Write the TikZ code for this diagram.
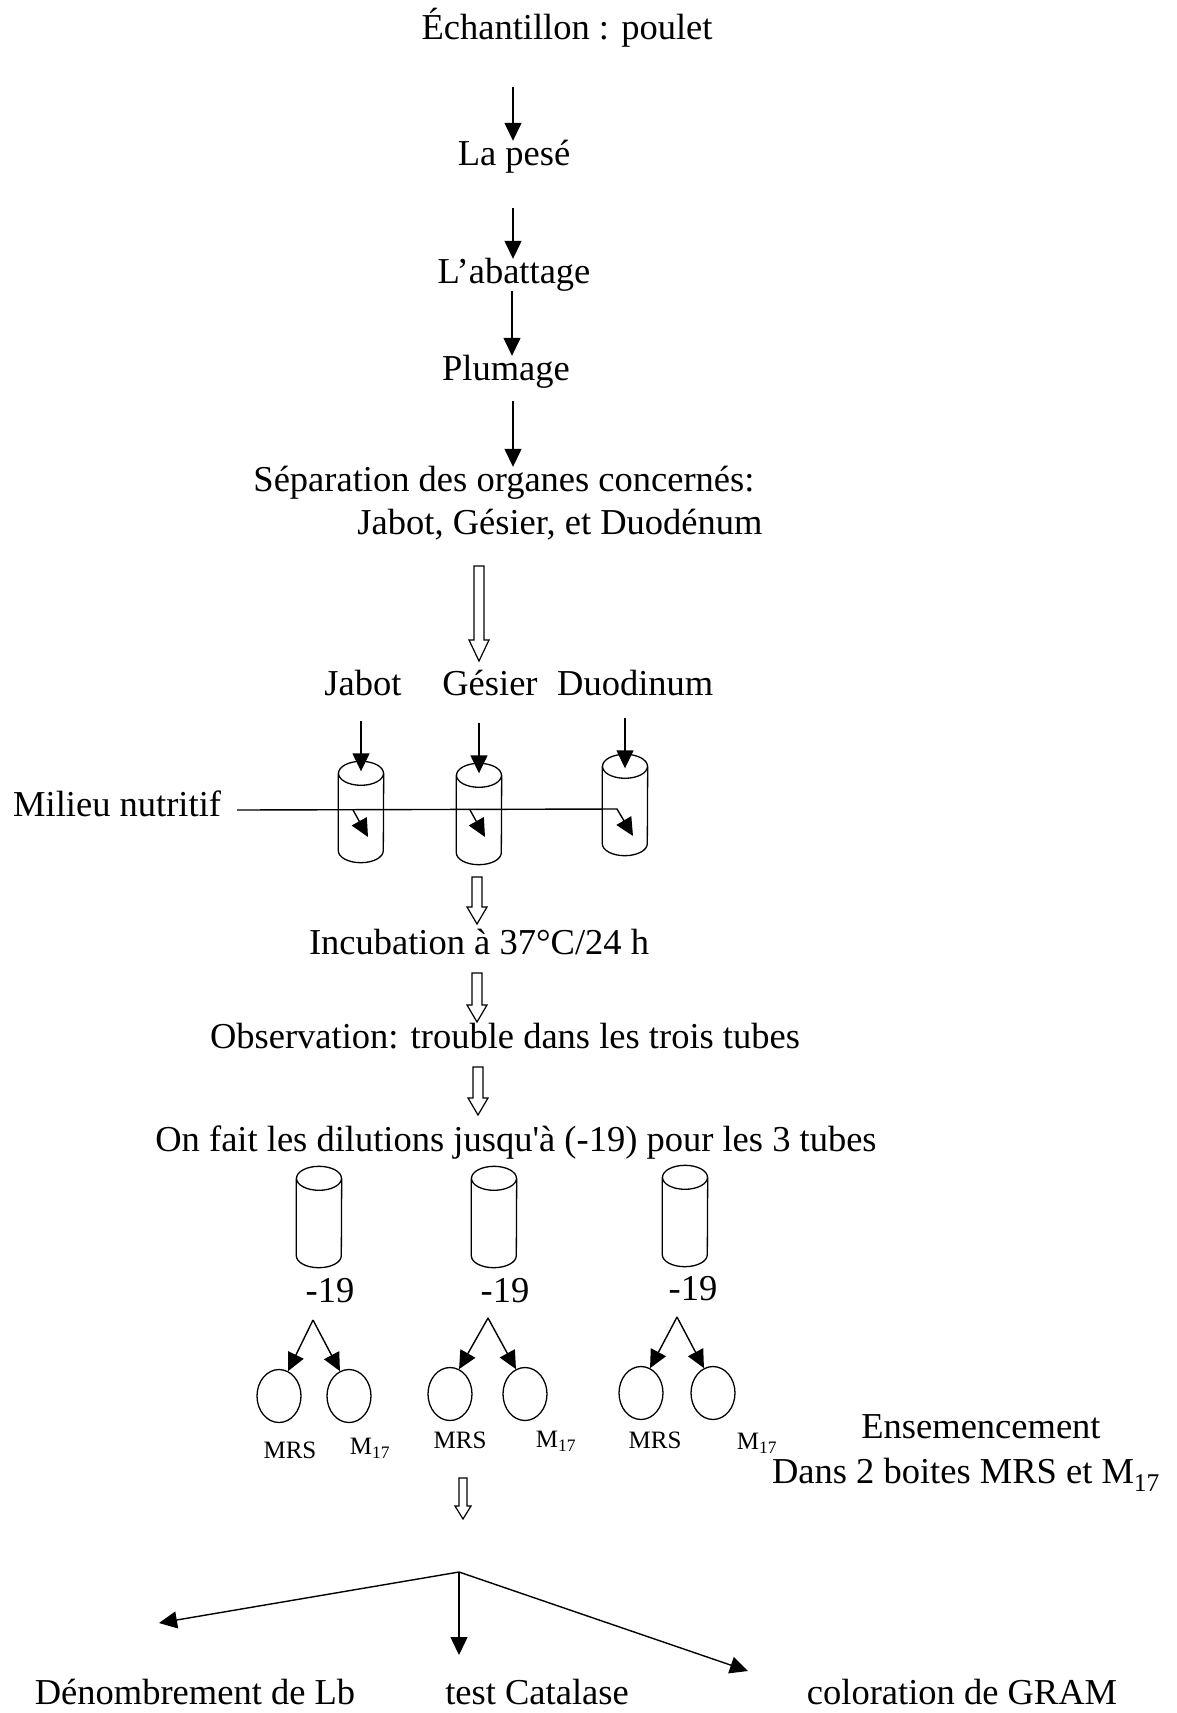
\documentclass[tikz,border=0pt]{standalone}
\usepackage{fontspec}
\setmainfont{Liberation Serif}[Ligatures=TeXOff]
\usetikzlibrary{arrows.meta,shapes.geometric,calc}
\newcommand{\hollowarr}[5]{%
  \draw[hollow] let \p1=(#1), \p2=(#2) in
    (\x1-#3,\y1) -- (\x1-#3,\y2+#5) -- (\x1-#4,\y2+#5) -- (\x1,\y2)
    -- (\x1+#4,\y2+#5) -- (\x1+#3,\y2+#5) -- (\x1+#3,\y1) -- cycle;}
\newcommand{\cylout}[1]{%
  \draw[tubeline] ([yshift=-12pt]#1.north) ellipse [x radius=22.5pt, y radius=12pt];
  \draw[tubeline] ([yshift=-12pt]#1.north west) -- ([yshift=12pt]#1.south west)
    arc[start angle=180, end angle=360, x radius=22.5pt, y radius=12pt]
    -- ([yshift=-12pt]#1.north east);}
\begin{document}
\begin{tikzpicture}[x=1pt,y=-1pt,
  txt/.style={font=\fontsize{36.5}{42}\selectfont, inner sep=0pt, text height=24pt, text depth=8pt, yshift=-4pt},
  small/.style={font=\fontsize{25}{28}\selectfont, inner sep=0pt},
  flow/.style={line width=1.4pt, -{Triangle[length=18pt,width=17pt]}},
  tube/.style={rectangle, minimum width=45pt, minimum height=101pt, inner sep=0pt},
  tubeline/.style={line width=1.3pt},
  dish/.style={ellipse, draw, line width=1.3pt, minimum width=44pt, minimum height=53pt, inner sep=0pt},
  hollow/.style={draw, line width=1.2pt, fill=white, line join=miter}]
\fill[white] (0,0) rectangle (1177,1713);
\useasboundingbox (0,0) rectangle (1177,1713);

% main flow texts
\node[txt] (s0) at (567,27) {Échantillon : poulet};
\node[txt] (s1) at (514,153) {La pesé};
\node[txt] (s2) at (514,271) {L’abattage};
\node[txt] (s3) at (506,368) {Plumage};
\node[txt] (s4a) at (504,479) {Séparation des organes concernés:};
\node[txt] (s4b) at (560,522) {Jabot, Gésier, et Duodénum};

\coordinate (a1) at (513,87);
\coordinate (a2) at (513,208);
\coordinate (a3) at (512,291);
\coordinate (a4) at (513,401);
\draw[flow] (a1) -- (a1 |- s1.north);
\draw[flow] (a2) -- (a2 |- s2.north);
\draw[flow] (a3) -- (a3 |- s3.north);
\draw[flow] (a4) -- (a4 |- s4a.north);

% hollow arrow to organs
\coordinate (h1s) at (479,566);
\coordinate (h1e) at (479,661);
\hollowarr{h1s}{h1e}{5pt}{10pt}{21pt}

\node[txt] (o1) at (363,683) {Jabot};
\node[txt] (o2) at (490,683) {Gésier};
\node[txt, anchor=west] (o3) at (557,683) {Duodinum};

% tubes row 1
\node[tube] (t1) at (361,812) {};
\node[tube] (t2) at (479,814) {};
\node[tube] (t3) at (625,805) {};
\cylout{t1}\cylout{t2}\cylout{t3}
\draw[flow] ([yshift=40pt]t1.north) -- ([yshift=-10pt]t1.north);
\draw[flow] ([yshift=40pt]t2.north) -- ([yshift=-10pt]t2.north);
\draw[flow] ([yshift=36pt]t3.north) -- ([yshift=-14pt]t3.north);

% milieu nutritif
\node[txt, anchor=west] (mil) at (13,804) {Milieu nutritif};
\coordinate (m0) at (237,810);
\coordinate (m1) at (617,809);
\coordinate (m2) at (633,836);
\draw[flow] (m0) -- (m1) -- (m2);
\coordinate (b1s) at (353,810);
\coordinate (b1e) at (368,837);
\coordinate (b2s) at (470,810);
\coordinate (b2e) at (485,837);
\draw[flow] (b1s) -- (b1e);
\draw[flow] (b2s) -- (b2e);

% incubation etc.
\coordinate (h2s) at (477,877);
\coordinate (h2e) at (477,924);
\hollowarr{h2s}{h2e}{5pt}{10pt}{17pt}
\node[txt] (inc) at (479,942) {Incubation à 37°C/24 h};
\coordinate (h3s) at (477,973);
\coordinate (h3e) at (477,1022);
\hollowarr{h3s}{h3e}{5pt}{10pt}{17pt}
\node[txt] (obs) at (505,1036) {Observation: trouble dans les trois tubes};
\coordinate (h4s) at (478,1067);
\coordinate (h4e) at (478,1115);
\hollowarr{h4s}{h4e}{5pt}{10pt}{17pt}
\node[txt] (dil) at (516,1139) {On fait les dilutions jusqu{\char"0027}à (-19) pour les 3 tubes};

% tubes row 2
\node[tube] (t4) at (319,1217) {};
\node[tube] (t5) at (494,1217) {};
\node[tube] (t6) at (685,1216) {};
\cylout{t4}\cylout{t5}\cylout{t6}
\node[txt] (n1) at (330,1290) {-19};
\node[txt] (n2) at (505,1290) {-19};
\node[txt] (n3) at (693,1288) {-19};

% dishes
\node[dish] (d1) at (279,1396) {};
\node[dish] (d2) at (349,1396) {};
\node[dish] (d3) at (450,1394) {};
\node[dish] (d4) at (525,1394) {};
\node[dish] (d5) at (641,1393) {};
\node[dish] (d6) at (713,1393) {};
\coordinate (f1) at (313,1320);
\coordinate (f2) at (488,1318);
\coordinate (f3) at (677,1317);
\draw[flow] (f1) -- (d1.70);
\draw[flow] (f1) -- (d2.110);
\draw[flow] (f2) -- (d3.70);
\draw[flow] (f2) -- (d4.110);
\draw[flow] (f3) -- (d5.70);
\draw[flow] (f3) -- (d6.110);

\node[small] (l1) at (290,1450) {MRS};
\node[small] (l2) at (370,1448) {M\textsubscript{17}};
\node[small] (l3) at (460,1440) {MRS};
\node[small] (l4) at (556,1441) {M\textsubscript{17}};
\node[small] (l5) at (655,1440) {MRS};
\node[small] (l6) at (757,1443) {M\textsubscript{17}};

\node[txt] (ens) at (981,1426) {Ensemencement};
\node[txt] (dans) at (966,1471) {Dans 2 boites MRS et M\textsubscript{17}};

% final step
\coordinate (h5s) at (463,1478);
\coordinate (h5e) at (463,1519);
\hollowarr{h5s}{h5e}{4pt}{8pt}{13pt}
\coordinate (fb) at (459,1572);
\node[txt] (r1) at (195,1692) {Dénombrement de Lb};
\node[txt] (r2) at (537,1692) {test Catalase};
\node[txt] (r3) at (962,1692) {coloration de GRAM};
\coordinate (r1t) at (159,1623);
\coordinate (r2t) at (459,1655);
\coordinate (r3t) at (748,1671);
\draw[flow] (fb) -- (r1t);
\draw[flow] (fb) -- (r2t);
\draw[flow] (fb) -- (r3t);
\end{tikzpicture}
\end{document}
